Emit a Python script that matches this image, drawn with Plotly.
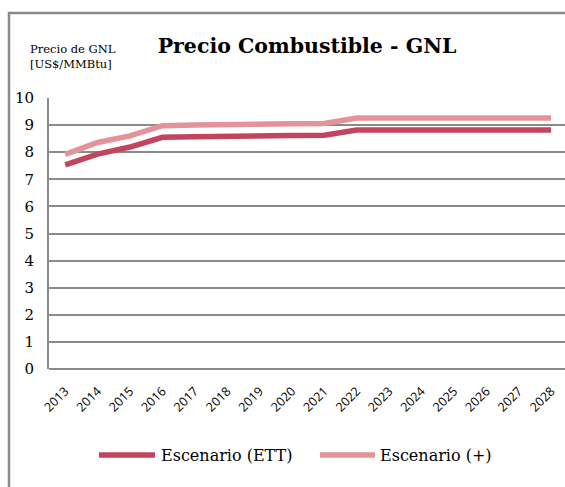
import plotly.graph_objects as go

years = [str(y) for y in range(2013, 2029)]
ett = [7.53, 7.93, 8.19, 8.55, 8.57, 8.57, 8.57, 8.62, 8.63, 8.82, 8.82, 8.82, 8.82, 8.82, 8.82, 8.82]
plus = [7.92, 8.36, 8.60, 8.98, 9.00, 9.00, 9.00, 9.05, 9.06, 9.26, 9.26, 9.26, 9.26, 9.26, 9.26, 9.26]
y_ticks = list(range(0, 11))
series_names = ["Escenario (ETT)", "Escenario (+)"]
series_colors = ["#C2455D", "#E4939B"]

W, H = 565, 487
L, R, T, B = 49, 0, 98, 118
pw, ph = W - L - R, H - T - B

def px_x(p):
    return (p - L) / pw

def px_y(p):
    return (H - B - p) / ph

serif = "DejaVu Serif"
grid = "#8a8a8a"

fig = go.Figure()
for name, vals, col in zip(series_names, [ett, plus], series_colors):
    fig.add_trace(go.Scatter(x=years, y=vals, mode="lines", name=name,
                             line=dict(color=col, width=5.5), showlegend=False))

# legend drawn as swatches + text (long line swatches as in reference)
legend_shapes = []
legend_ann = []
for (x0, x1, tx), name, col in zip([(99, 155, 159), (320, 375, 378)], series_names, series_colors):
    legend_shapes.append(dict(type="line", xref="paper", yref="paper",
                              x0=px_x(x0), x1=px_x(x1), y0=px_y(455), y1=px_y(455),
                              line=dict(color=col, width=5.5)))
    legend_ann.append(dict(text=name, xref="paper", yref="paper", x=px_x(tx), y=px_y(455),
                           xanchor="left", yanchor="middle", showarrow=False,
                           font=dict(family=serif, size=16, color="black")))

fig.update_layout(
    width=W, height=H,
    margin=dict(l=L, r=R, t=T, b=B, pad=0),
    paper_bgcolor="white", plot_bgcolor="white",
    showlegend=False,
    title=dict(text="<b>Precio Combustible - GNL</b>", xref="container", yref="container",
               x=307 / W, xanchor="center", y=1 - 46 / H, yanchor="middle",
               font=dict(family=serif, size=20.5, color="black")),
    xaxis=dict(type="category", range=[-0.5, 15.43], showgrid=False, tickangle=-45,
               showline=False, zeroline=False, ticks="outside", ticklen=9, tickcolor="rgba(0,0,0,0)",
               tickfont=dict(family="Open Sans", size=12.5, color="black")),
    yaxis=dict(range=[0, 10], tickvals=y_ticks, showgrid=True, gridcolor=grid, gridwidth=2,
               showline=True, linecolor=grid, linewidth=2, zeroline=True, zerolinecolor=grid,
               zerolinewidth=2, ticks="", ticklabelstandoff=10,
               tickfont=dict(family=serif, size=15, color="black")),
    annotations=[dict(text="Precio de GNL<br>[US$/MMBtu]", xref="paper", yref="paper",
                      x=px_x(28), y=px_y(40), xanchor="left", yanchor="top", align="left",
                      showarrow=False, font=dict(family=serif, size=11.5, color="black"))] + legend_ann,
    shapes=[dict(type="rect", xref="paper", yref="paper", x0=px_x(9), x1=px_x(600),
                 y0=px_y(520), y1=px_y(13), line=dict(color="#8a8a8a", width=2.5),
                 layer="below")] + legend_shapes,
)

fig.write_html("out.html", config={"displayModeBar": False},
               post_script="document.body.style.margin='0px';document.body.style.overflow='hidden';")
